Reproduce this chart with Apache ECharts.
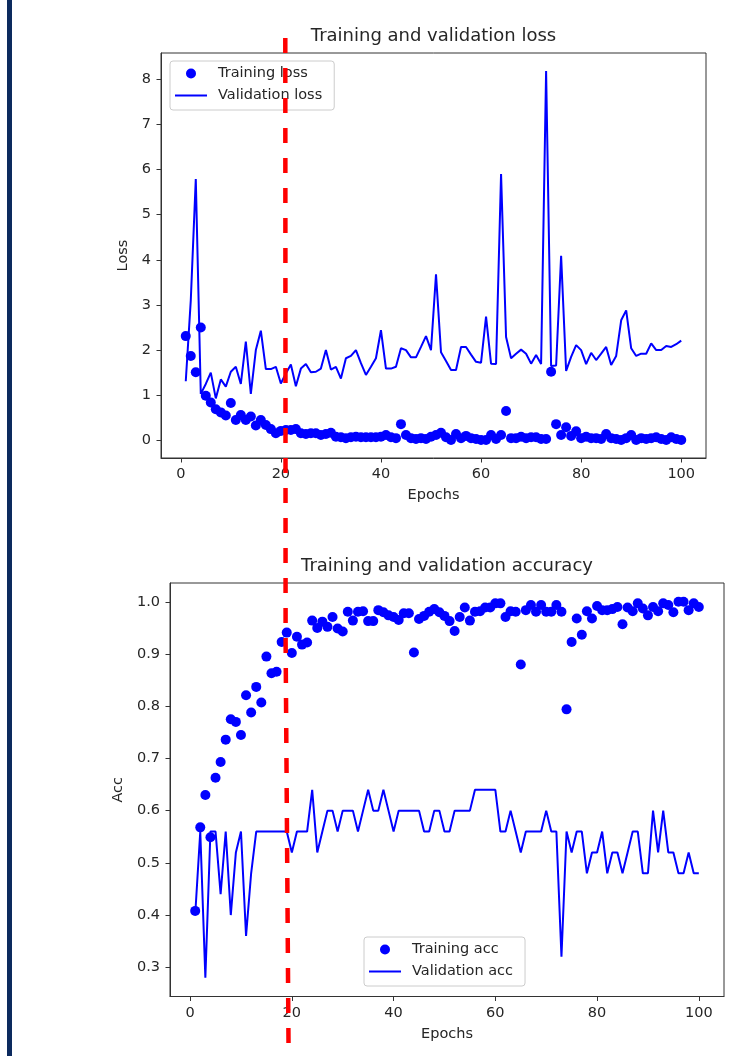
<!DOCTYPE html>
<html>
<head>
<meta charset="utf-8">
<title>Training and validation loss / accuracy</title>
<script src="https://cdn.jsdelivr.net/npm/echarts@6/dist/echarts.min.js"></script>
<style>
  html, body { margin: 0; padding: 0; background: #fff; }
  #chart { width: 733px; height: 1056px; }
</style>
</head>
<body>
<div id="chart"></div>
<script>
// values, one per epoch (1..100)
const trainLoss = [
  2.31, 1.87, 1.51, 2.50, 0.99, 0.84, 0.69, 0.62, 0.55, 0.83,
  0.45, 0.56, 0.45, 0.53, 0.33, 0.45, 0.34, 0.25, 0.16, 0.21,
  0.23, 0.23, 0.25, 0.16, 0.14, 0.16, 0.16, 0.12, 0.14, 0.17,
  0.08, 0.07, 0.05, 0.07, 0.08, 0.07, 0.07, 0.07, 0.07, 0.08,
  0.12, 0.07, 0.05, 0.36, 0.12, 0.05, 0.03, 0.05, 0.03, 0.08,
  0.12, 0.17, 0.07, 0.01, 0.14, 0.05, 0.10, 0.05, 0.03, 0.01,
  0.01, 0.12, 0.03, 0.12, 0.65, 0.05, 0.05, 0.08, 0.05, 0.07,
  0.07, 0.03, 0.03, 1.52, 0.36, 0.12, 0.29, 0.10, 0.20, 0.05,
  0.08, 0.05, 0.05, 0.03, 0.14, 0.05, 0.03, 0.01, 0.05, 0.12,
  0.01, 0.05, 0.03, 0.05, 0.07, 0.03, 0.01, 0.07, 0.03, 0.01
];
const valLoss = [
  1.31, 3.10, 5.79, 1.03, 1.25, 1.50, 0.93, 1.35, 1.19, 1.52,
  1.63, 1.25, 2.19, 1.03, 2.00, 2.43, 1.58, 1.58, 1.63, 1.26,
  1.48, 1.68, 1.20, 1.59, 1.69, 1.51, 1.52, 1.59, 2.00, 1.57,
  1.63, 1.37, 1.82, 1.87, 2.00, 1.71, 1.45, 1.63, 1.82, 2.44,
  1.59, 1.59, 1.63, 2.04, 2.00, 1.84, 1.84, 2.07, 2.31, 2.00,
  3.68, 1.95, 1.76, 1.56, 1.56, 2.07, 2.07, 1.90, 1.74, 1.72,
  2.74, 1.70, 1.69, 5.90, 2.29, 1.82, 1.92, 2.01, 1.92, 1.70,
  1.89, 1.69, 8.18, 1.65, 1.66, 4.09, 1.54, 1.85, 2.11, 2.00,
  1.69, 1.94, 1.78, 1.92, 2.07, 1.67, 1.87, 2.66, 2.88, 2.04,
  1.87, 1.92, 1.92, 2.15, 2.00, 2.00, 2.09, 2.07, 2.13, 2.21
];
const trainAcc = [
  0.408, 0.568, 0.630, 0.549, 0.663, 0.693, 0.736, 0.775, 0.770, 0.745,
  0.821, 0.788, 0.837, 0.807, 0.895, 0.863, 0.866, 0.923, 0.941, 0.902,
  0.933, 0.918, 0.922, 0.964, 0.950, 0.962, 0.952, 0.971, 0.949, 0.943,
  0.981, 0.964, 0.981, 0.982, 0.963, 0.963, 0.984, 0.980, 0.974, 0.971,
  0.965, 0.978, 0.978, 0.903, 0.967, 0.973, 0.981, 0.986, 0.980, 0.973,
  0.963, 0.944, 0.971, 0.989, 0.964, 0.981, 0.982, 0.989, 0.989, 0.997,
  0.997, 0.971, 0.982, 0.981, 0.880, 0.984, 0.994, 0.981, 0.994, 0.981,
  0.981, 0.994, 0.981, 0.794, 0.923, 0.968, 0.937, 0.982, 0.968, 0.992,
  0.984, 0.984, 0.986, 0.990, 0.957, 0.989, 0.982, 0.997, 0.987, 0.974,
  0.990, 0.982, 0.997, 0.994, 0.980, 1.000, 1.000, 0.984, 0.997, 0.990
];
const valAcc = [
  0.40, 0.56, 0.28, 0.56, 0.56, 0.44, 0.56, 0.40, 0.52, 0.56,
  0.36, 0.48, 0.56, 0.56, 0.56, 0.56, 0.56, 0.56, 0.56, 0.52,
  0.56, 0.56, 0.56, 0.64, 0.52, 0.56, 0.60, 0.60, 0.56, 0.60,
  0.60, 0.60, 0.56, 0.60, 0.64, 0.60, 0.60, 0.64, 0.60, 0.56,
  0.60, 0.60, 0.60, 0.60, 0.60, 0.56, 0.56, 0.60, 0.60, 0.56,
  0.56, 0.60, 0.60, 0.60, 0.60, 0.64, 0.64, 0.64, 0.64, 0.64,
  0.56, 0.56, 0.60, 0.56, 0.52, 0.56, 0.56, 0.56, 0.56, 0.60,
  0.56, 0.56, 0.32, 0.56, 0.52, 0.56, 0.56, 0.48, 0.52, 0.52,
  0.56, 0.48, 0.52, 0.52, 0.48, 0.52, 0.56, 0.56, 0.48, 0.48,
  0.60, 0.52, 0.60, 0.52, 0.52, 0.48, 0.48, 0.52, 0.48, 0.48
];
const epochTicks = [0, 20, 40, 60, 80, 100];
const lossTicks = [0, 1, 2, 3, 4, 5, 6, 7, 8];
const accTicks = [0.3, 0.4, 0.5, 0.6, 0.7, 0.8, 0.9, 1.0];

const epochs = trainLoss.map((_, i) => i + 1);
const pairs = (vals) => vals.map((v, i) => [epochs[i], v]);

const FONT = 'DejaVu Sans';
const TEXT = '#262626';
const SPINE = '#333333';
const BLUE = '#0000ff';
// plain line for the legend: two empty corner points keep the 32x10 box, the bar is 2px thick
const LINE_ICON = 'path://M0,0L0,0M32,10L32,10M0,4L32,4L32,6L0,6Z';

function xAxisFor (gridIndex) {
  return {
    gridIndex: gridIndex,
    type: 'value',
    min: -3.95,
    max: 104.95,
    name: 'Epochs',
    nameLocation: 'middle',
    nameGap: 30,
    nameTextStyle: { fontFamily: FONT, fontSize: 14.5, color: TEXT },
    axisLine: { show: true, onZero: false, lineStyle: { color: SPINE, width: 1 } },
    axisTick: { show: true, length: 4.5, customValues: epochTicks, lineStyle: { color: SPINE } },
    axisLabel: { customValues: epochTicks, margin: 9, fontFamily: FONT, fontSize: 14.5, color: TEXT },
    splitLine: { show: false }
  };
}

function yAxisFor (gridIndex, opts) {
  return {
    gridIndex: gridIndex,
    type: 'value',
    min: opts.min,
    max: opts.max,
    name: opts.name,
    nameLocation: 'middle',
    nameGap: opts.nameGap,
    nameTextStyle: { fontFamily: FONT, fontSize: 14.5, color: TEXT },
    axisLine: { show: true, onZero: false, lineStyle: { color: SPINE, width: 1 } },
    axisTick: { show: true, length: 4.5, customValues: opts.ticks, lineStyle: { color: SPINE } },
    axisLabel: {
      customValues: opts.ticks,
      margin: 10,
      fontFamily: FONT,
      fontSize: 14.5,
      color: TEXT,
      formatter: opts.formatter
    },
    splitLine: { show: false }
  };
}

function legendAt (dotName, lineName, left, top) {
  return {
    data: [
      { name: dotName, icon: 'circle' },
      { name: lineName, icon: LINE_ICON }
    ],
    orient: 'vertical',
    left: left,
    top: top,
    padding: [5, 12, 7, 5],
    itemWidth: 32,
    itemHeight: 10,
    itemGap: 7,
    selectedMode: false,
    backgroundColor: 'rgba(255,255,255,0.8)',
    borderColor: '#cccccc',
    borderWidth: 1,
    borderRadius: 3,
    itemStyle: { borderWidth: 0 },
    textStyle: { fontFamily: FONT, fontSize: 14.5, color: TEXT, padding: [0, 0, 0, 6] }
  };
}

const myChart = echarts.init(document.getElementById('chart'), null, { renderer: 'canvas' });

myChart.setOption({
  animation: false,
  backgroundColor: '#ffffff',
  grid: [
    { left: 161, top: 53, width: 545, height: 405, show: true, borderColor: SPINE, borderWidth: 1,
      backgroundColor: '#fff', containLabel: false, outerBoundsMode: 'none' },
    { left: 170, top: 583, width: 554, height: 413.5, show: true, borderColor: SPINE, borderWidth: 1,
      backgroundColor: '#fff', containLabel: false, outerBoundsMode: 'none' }
  ],
  xAxis: [xAxisFor(0), xAxisFor(1)],
  yAxis: [
    yAxisFor(0, { min: -0.39, max: 8.58, name: 'Loss', nameGap: 28, ticks: lossTicks }),
    yAxisFor(1, { min: 0.244, max: 1.036, name: 'Acc', nameGap: 42, ticks: accTicks,
      formatter: (v) => Number(v).toFixed(1) })
  ],
  legend: [
    legendAt('Training loss', 'Validation loss', 170, 61),
    legendAt('Training acc', 'Validation acc', 364, 937)
  ],
  graphic: [
    { type: 'rect', shape: { x: 7, y: 0, width: 5, height: 1056 }, style: { fill: '#0c2a5e' }, z: 50 },
    { type: 'text', x: 433.5, y: 36, z: 50,
      style: { text: 'Training and validation loss', fontFamily: FONT, fontSize: 18, fill: TEXT,
        textAlign: 'center', textVerticalAlign: 'middle' } },
    { type: 'text', x: 447, y: 566, z: 50,
      style: { text: 'Training and validation accuracy', fontFamily: FONT, fontSize: 18, fill: TEXT,
        textAlign: 'center', textVerticalAlign: 'middle' } },
    { type: 'polyline', z: 100,
      shape: { points: [[285.3, 38], [285.6, 640], [288.6, 1056]] },
      style: { stroke: '#ff0000', lineWidth: 4.5, lineDash: [15, 15], fill: null } }
  ],
  series: [
    { name: 'Training loss', type: 'scatter', xAxisIndex: 0, yAxisIndex: 0,
      data: pairs(trainLoss), symbolSize: 10, itemStyle: { color: BLUE, opacity: 1 } },
    { name: 'Validation loss', type: 'line', xAxisIndex: 0, yAxisIndex: 0,
      data: pairs(valLoss), symbol: 'none', lineStyle: { color: BLUE, width: 2 }, itemStyle: { color: BLUE } },
    { name: 'Training acc', type: 'scatter', xAxisIndex: 1, yAxisIndex: 1,
      data: pairs(trainAcc), symbolSize: 10, itemStyle: { color: BLUE, opacity: 1 } },
    { name: 'Validation acc', type: 'line', xAxisIndex: 1, yAxisIndex: 1,
      data: pairs(valAcc), symbol: 'none', lineStyle: { color: BLUE, width: 2 }, itemStyle: { color: BLUE } }
  ]
});
</script>
</body>
</html>
